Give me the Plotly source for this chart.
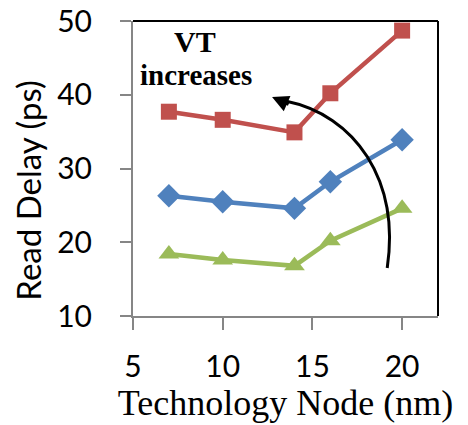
import plotly.graph_objects as go

node_nm = [7, 10, 14, 16, 20]
delay_high_vt = [37.7, 36.6, 34.9, 40.2, 48.7]
delay_mid_vt = [26.3, 25.5, 24.6, 28.2, 33.9]
delay_low_vt = [18.4, 17.6, 16.8, 20.2, 24.6]

x_ticks = [5, 10, 15, 20]
y_ticks = [10, 20, 30, 40, 50]

SANS = "Lato, 'Open Sans', sans-serif"
SERIF = "'Liberation Serif', 'Times New Roman', serif"
GREY = "#868686"

fig = go.Figure()

series = [
    (delay_low_vt, "#9BBB59", "triangle-up", 18),
    (delay_mid_vt, "#4F81BD", "diamond", 18),
    (delay_high_vt, "#C0504D", "square", 16),
]
for ys, col, sym, sz in series:
    fig.add_trace(go.Scatter(x=node_nm, y=ys, mode="lines+markers",
                             line=dict(color=col, width=4.5),
                             marker=dict(symbol=sym, size=sz, color=col),
                             showlegend=False))

# curved arrow (VT increases)
fig.add_shape(type="path", xref="x", yref="y",
              path="M 19.17,16.5 C 19.89,28.44 17.38,37.25 13.5,39.15",
              line=dict(color="black", width=3))
fig.add_annotation(x=12.75, y=39.7, ax=18, ay=8, text="", showarrow=True,
                   arrowhead=2, arrowsize=1.1, arrowwidth=3, arrowcolor="black",
                   standoff=0)

fig.add_annotation(x=8.46, y=47.2, text="<b>VT</b>", showarrow=False,
                   font=dict(family=SERIF, size=30, color="black"))
fig.add_annotation(x=8.5, y=42.7, text="<b>increases</b>", showarrow=False,
                   font=dict(family=SERIF, size=29, color="black"))

# y title sits a little below the plot's middle in the original
fig.add_annotation(xref="paper", yref="paper", x=-0.344, y=0.425,
                   text="Read Delay (ps)", textangle=-90, showarrow=False,
                   xanchor="center", yanchor="middle",
                   font=dict(family=SANS, size=33, color="black"))

# black top/right frame
fig.add_shape(type="line", xref="paper", yref="paper", x0=0, x1=1, y0=1, y1=1,
              line=dict(color="black", width=2))
fig.add_shape(type="line", xref="paper", yref="paper", x0=1, x1=1, y0=0, y1=1,
              line=dict(color="black", width=2))

fig.update_xaxes(range=[5, 22], tickvals=x_ticks, showgrid=False, zeroline=False,
                 automargin=False, ticklabeloverflow="allow",
                 showline=True, linecolor=GREY, linewidth=2,
                 ticks="outside", ticklen=12, tickwidth=2, tickcolor=GREY,
                 ticklabelstandoff=11,
                 tickfont=dict(family=SANS, size=30, color="black"),
                 title=dict(text="Technology Node (nm)", standoff=0,
                            font=dict(family=SERIF, size=36, color="black")))
fig.update_yaxes(range=[10, 50], tickvals=y_ticks, showgrid=False, zeroline=False,
                 automargin=False, ticklabeloverflow="allow",
                 showline=True, linecolor=GREY, linewidth=2,
                 ticks="outside", ticklen=11, tickwidth=2, tickcolor=GREY,
                 ticklabelstandoff=22,
                 tickfont=dict(family=SANS, size=30, color="black"))

# page body has an 8px margin, so the figure is drawn 8px smaller
fig.update_layout(width=460, height=417,
                  margin=dict(l=125, r=30, t=13, b=109),
                  plot_bgcolor="white", paper_bgcolor="white")

fig.write_html("out.html")
